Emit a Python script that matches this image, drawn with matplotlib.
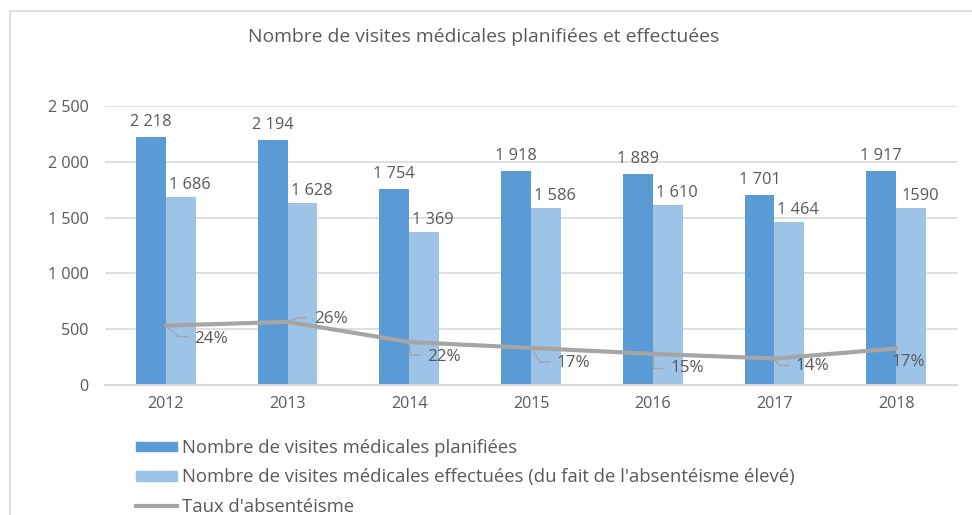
import matplotlib
matplotlib.use("Agg")
import matplotlib.pyplot as plt
import numpy as np
from matplotlib.lines import Line2D
from matplotlib.patches import Patch
from matplotlib.transforms import IdentityTransform

years = ["2012", "2013", "2014", "2015", "2016", "2017", "2018"]
planned = [2218, 2194, 1754, 1918, 1889, 1701, 1917]
done = [1686, 1628, 1369, 1586, 1610, 1464, 1590]
absent_counts = [532, 566, 385, 332, 279, 237, 327]
absent_rates = ["24%", "26%", "22%", "17%", "15%", "14%", "17%"]
done_labels = ["1 686", "1 628", "1 369", "1 586", "1 610", "1 464", "1590"]
yticks = [0, 500, 1000, 1500, 2000, 2500]
ytick_labels = ["0", "500", "1 000", "1 500", "2 000", "2 500"]

title = "Nombre de visites médicales planifiées et effectuées"
legend_labels = [
    "Nombre de visites médicales planifiées",
    "Nombre de visites médicales effectuées (du fait de l'absentéisme élevé)",
    "Taux d'absentéisme",
]

DARK = "#5B9BD5"
LIGHT = "#9DC3E6"
GREY = "#A5A5A5"
TEXT = "#595959"
GRID = "#D9D9D9"

plt.rcParams["font.family"] = ["Open Sans", "DejaVu Sans"]

W, H = 972, 515
fig = plt.figure(figsize=(W / 100, H / 100), dpi=100)
ax = fig.add_axes([105 / W, 1 - 385 / H, (957 - 105) / W, (385 - 106) / H])

x = np.arange(len(years))
bw = 0.245
ax.bar(x - bw / 2, planned, bw, color=DARK, zorder=2)
ax.bar(x + bw / 2, done, bw, color=LIGHT, zorder=2)
ax.plot(x, absent_counts, color=GREY, lw=3, zorder=3, solid_capstyle="round")

ax.set_xlim(-0.5, len(years) - 0.5)
ax.set_ylim(0, 2500)
ax.set_yticks(yticks)
ax.set_yticklabels(ytick_labels)
ax.set_xticks(x)
ax.set_xticklabels(years)
ax.tick_params(length=0, colors=TEXT, labelsize=11.6)
ax.tick_params(axis="y", pad=12)
ax.tick_params(axis="x", pad=8)
ax.grid(axis="y", color=GRID, lw=1.2, zorder=0)
for s in ["top", "right", "left"]:
    ax.spines[s].set_visible(False)
ax.spines["bottom"].set_color(GRID)
ax.spines["bottom"].set_linewidth(1.5)

for i in range(len(years)):
    ax.annotate(f"{planned[i]:,}".replace(",", " "), (x[i] - bw / 2, planned[i]),
                xytext=(0, 15), textcoords="offset pixels", ha="center", va="center",
                color=TEXT, fontsize=11.8)
    ax.annotate(done_labels[i], (x[i] + bw / 2, done[i]),
                xytext=(9, 12), textcoords="offset pixels", ha="center", va="center",
                color=TEXT, fontsize=11.8)

# percentage labels with Excel-like leader lines (pixel offsets, y up)
label_off = [(45, -13), (43, 3), (35, -15), (42, -15), (35, -14), (38, -7), (12, -13)]
leaders = [
    [(12, -11), (22, -11)],
    [(10, 4), (18, 4)],
    [(1, -13), (11, -13)],
    [(9, -14), (19, -14)],
    [(0, -14), (10, -14)],
    [(5, -7), (15, -7)],
    None,
]
fig.canvas.draw()
for i in range(len(years)):
    dx, dy = label_off[i]
    ax.annotate(absent_rates[i], (x[i], absent_counts[i]), xytext=(dx, dy),
                textcoords="offset pixels", ha="center", va="center",
                color=TEXT, fontsize=12.3, zorder=5)
    if leaders[i] is not None:
        px, py = ax.transData.transform((x[i], absent_counts[i]))
        xs = [px] + [px + p[0] for p in leaders[i]]
        ys = [py] + [py + p[1] for p in leaders[i]]
        fig.add_artist(Line2D(xs, ys, transform=IdentityTransform(), color=GREY, lw=1))

fig.text(484 / W, 1 - 37 / H, title, ha="center", va="center", color=TEXT, fontsize=13.9)

handles = [
    Patch(color=DARK),
    Patch(color=LIGHT),
    Line2D([0], [0], color=GREY, lw=3),
]
fig.legend(handles, legend_labels, loc="upper left", bbox_to_anchor=(136 / W, 1 - 439 / H),
           frameon=False, fontsize=13.3, labelcolor=TEXT, handlelength=2.2, handleheight=0.4,
           handletextpad=0.27, labelspacing=0.62, borderpad=0, borderaxespad=0)

# chart area border (cropped screenshot)
fig.add_artist(Line2D([10 / W, 10 / W, 1], [0, 1 - 11 / H, 1 - 11 / H],
                      transform=fig.transFigure, color=GRID, lw=1.2))

fig.savefig("out.png", dpi=100)
